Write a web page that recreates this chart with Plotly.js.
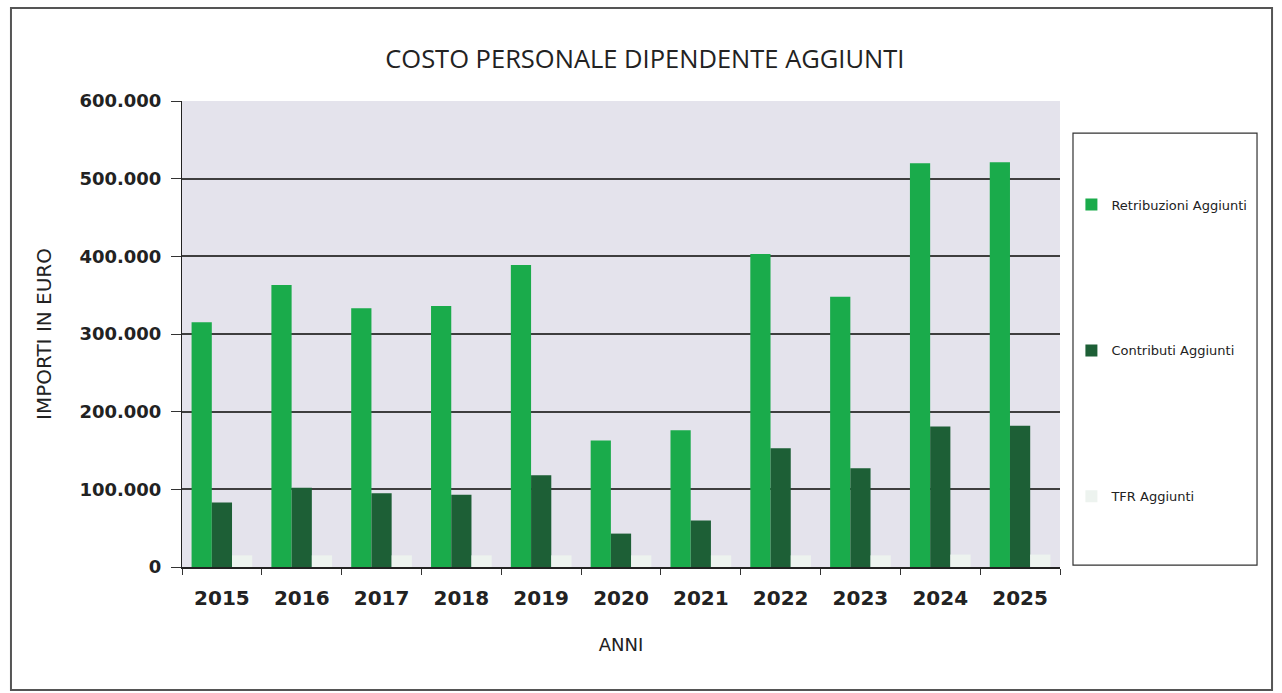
<!DOCTYPE html>
<html>
<head>
<meta charset="utf-8">
<script src="https://cdn.plot.ly/plotly-3.0.1.min.js"></script>
<style>html,body{margin:0;padding:0;background:#fff;}#chart{width:1282px;height:693px;}</style>
</head>
<body>
<div id="chart"></div>
<script>
const anni = ['2015','2016','2017','2018','2019','2020','2021','2022','2023','2024','2025'];
const retribuzioni = [315000, 363000, 333000, 336000, 389000, 163000, 176000, 403000, 348000, 520000, 521000];
const contributi = [83000, 102000, 95000, 93000, 118000, 43000, 60000, 153000, 127000, 181000, 182000];
const tfr = [15000, 15000, 15000, 15000, 15000, 15000, 15000, 15000, 15000, 16000, 16000];
const yTicks = [0, 100000, 200000, 300000, 400000, 500000, 600000];
const gridTicks = [100000, 200000, 300000, 400000, 500000];

const traces = [
  {type:'bar', name:'Retribuzioni Aggiunti', x:anni, y:retribuzioni, marker:{color:'#1aab4b'}, legendgroup:'a'},
  {type:'bar', name:'Contributi Aggiunti', x:anni, y:contributi, marker:{color:'#1d5f36'}, legendgroup:'b'},
  {type:'bar', name:'TFR Aggiunti', x:anni, y:tfr, marker:{color:'#edf3ef'}, legendgroup:'c'}
];

const layout = {
  width:1282, height:693,
  margin:{l:182, r:222, t:101, b:126},
  paper_bgcolor:'#ffffff',
  plot_bgcolor:'#e4e3ec',
  separators:',.',
  barmode:'group',
  bargap:0.24,
  bargroupgap:0,
  showlegend:true,
  title:{text:'COSTO PERSONALE DIPENDENTE AGGIUNTI', x:0.503, xref:'container', xanchor:'center', y:0.915, yanchor:'middle',
    font:{family:'Open Sans, Noto Sans, sans-serif', size:25.5, color:'#222'}},
  xaxis:{
    type:'category', range:[-0.5, anni.length - 0.5], showline:true, linecolor:'#222', linewidth:1.5, automargin:false,
    ticks:'outside', tickson:'boundaries', ticklen:6, tickcolor:'#333',
    ticklabelstandoff:12,
    tickfont:{family:'DejaVu Sans, sans-serif', size:20, color:'#222', weight:'bold'},
    title:{text:'ANNI', standoff:30, font:{family:'DejaVu Sans, sans-serif', size:18, color:'#222'}}
  },
  yaxis:{
    range:[0,600000], tickmode:'array', tickvals:gridTicks, showticklabels:false, ticks:'', automargin:false,
    showgrid:true, gridcolor:'#3e3e3e', gridwidth:2, zeroline:false,
    showline:true, linecolor:'#222', linewidth:1.5
  },
  yaxis2:{
    overlaying:'y', side:'left', range:[0,600000], tickmode:'array', tickvals:yTicks, automargin:false,
    tickformat:',d', showgrid:false, zeroline:false, showline:false,
    ticks:'outside', ticklen:10, tickcolor:'#333',
    ticklabelstandoff:6,
    tickfont:{family:'DejaVu Sans, sans-serif', size:18, color:'#222', weight:'bold'},
    title:{text:'IMPORTI IN EURO', standoff:22, font:{family:'DejaVu Sans, sans-serif', size:20, color:'#222'}}
  },
  legend:{
    x:1.013, xanchor:'left', y:0.81, yanchor:'top',
    bgcolor:'rgba(0,0,0,0)', borderwidth:0,
    tracegroupgap:126,
    font:{family:'DejaVu Sans, sans-serif', size:13, color:'#222'},
    itemwidth:30
  },
  shapes:[
    {type:'rect', xref:'paper', yref:'paper', x0:1.0148, x1:1.2244, y0:0.004, y1:0.931,
      line:{color:'#333', width:1.2}, fillcolor:'rgba(0,0,0,0)'},
    {type:'rect', xref:'paper', yref:'paper', x0:-0.1948, x1:1.2415, y0:-0.264, y1:1.1996,
      line:{color:'#555', width:2}, fillcolor:'rgba(0,0,0,0)'}
  ]
};

// invisible helper trace that activates the label axis (yaxis2)
traces.push({type:'scatter', x:[anni[0]], y:[0], yaxis:'y2', mode:'markers', marker:{opacity:0}, showlegend:false, hoverinfo:'skip'});

Plotly.newPlot('chart', traces, layout, {displayModeBar:false, staticPlot:true});
</script>
</body>
</html>
